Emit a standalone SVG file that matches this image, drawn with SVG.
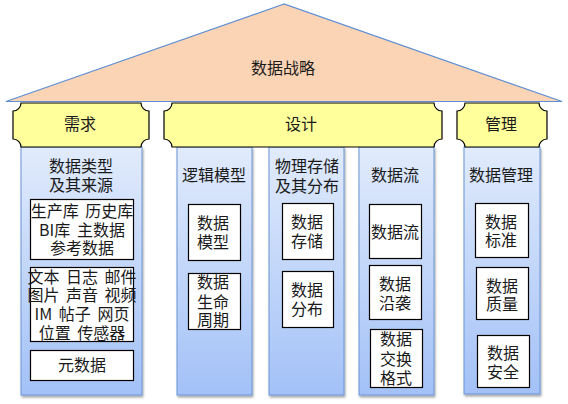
<svg xmlns="http://www.w3.org/2000/svg" width="568" height="404" viewBox="0 0 568 404">
<defs>
<linearGradient id="colg" x1="0" y1="0" x2="0" y2="1">
<stop offset="0" stop-color="#E1EBFC"/>
<stop offset="1" stop-color="#A3C1F7"/>
</linearGradient>
<filter id="sh" x="-10%" y="-10%" width="130%" height="130%">
<feDropShadow dx="1" dy="2" stdDeviation="1.2" flood-color="#000" flood-opacity="0.35"/>
</filter>
</defs>
<style>
text{font-family:"Noto Sans CJK SC","Noto Sans",sans-serif;font-size:16px;fill:#1a1a1a;text-anchor:middle}
.ws{word-spacing:3px}
.col{fill:url(#colg);stroke:#6A95D6;stroke-width:1;filter:url(#sh)}
.box{fill:#fff;stroke:#000;stroke-width:1.2}
.plq{fill:#FFFF9B;stroke:#000;stroke-width:1.2}
.roof{fill:#FAD4B5;stroke:#5E8ED4;stroke-width:1.2}
</style>
<g id="roof">
<polygon class="roof" points="284,4 6,101.5 562,101.5"/>
<text x="283" y="74">数据战略</text>
</g>
<g id="col-demand">
<rect class="col" x="21" y="147" width="121" height="248"/>
<text x="81" y="172">数据类型</text>
<text x="81" y="191">及其来源</text>
<rect class="box" x="30.5" y="199.5" width="103" height="60"/>
<text class="ws" x="82" y="217">生产库 历史库</text>
<text class="ws" x="82" y="236">BI库 主数据</text>
<text x="82" y="254">参考数据</text>
<rect class="box" x="30.5" y="267.5" width="103" height="74"/>
<text class="ws" x="82" y="283">文本 日志 邮件</text>
<text class="ws" x="82" y="301">图片 声音 视频</text>
<text class="ws" x="82" y="320">IM 帖子 网页</text>
<text class="ws" x="82" y="339">位置 传感器</text>
<rect class="box" x="30.5" y="350.5" width="103" height="30"/>
<text x="82" y="371">元数据</text>
</g>
<g id="col-logic">
<rect class="col" x="177" y="147" width="75" height="248"/>
<text x="214" y="181">逻辑模型</text>
<rect class="box" x="188.5" y="204.5" width="52" height="56"/>
<text x="213" y="229">数据</text>
<text x="213" y="248">模型</text>
<rect class="box" x="188.5" y="273.5" width="52" height="56"/>
<text x="213" y="288">数据</text>
<text x="213" y="308">生命</text>
<text x="213" y="326">周期</text>
</g>
<g id="col-physical">
<rect class="col" x="269" y="147" width="75" height="248"/>
<text x="307" y="172">物理存储</text>
<text x="307" y="192">及其分布</text>
<rect class="box" x="282.5" y="203.5" width="51" height="56"/>
<text x="307" y="228">数据</text>
<text x="307" y="247">存储</text>
<rect class="box" x="282.5" y="271.5" width="51" height="56"/>
<text x="307" y="296">数据</text>
<text x="307" y="315">分布</text>
</g>
<g id="col-flow">
<rect class="col" x="359" y="147" width="75" height="248"/>
<text x="395" y="181">数据流</text>
<rect class="box" x="369.5" y="204.5" width="52" height="54"/>
<text x="395" y="238">数据流</text>
<rect class="box" x="369.5" y="265.5" width="52" height="54"/>
<text x="395" y="290">数据</text>
<text x="395" y="309">沿袭</text>
<rect class="box" x="370.5" y="329.5" width="52" height="58"/>
<text x="396" y="345">数据</text>
<text x="396" y="365">交换</text>
<text x="396" y="384">格式</text>
</g>
<g id="col-manage">
<rect class="col" x="464" y="147" width="76" height="247"/>
<text x="501" y="181">数据管理</text>
<rect class="box" x="475.5" y="203.5" width="53" height="54"/>
<text x="501" y="228">数据</text>
<text x="501" y="246">标准</text>
<rect class="box" x="476.5" y="267.5" width="52" height="52"/>
<text x="502" y="292">数据</text>
<text x="502" y="310">质量</text>
<rect class="box" x="477.5" y="335.5" width="52" height="52"/>
<text x="503" y="359">数据</text>
<text x="503" y="378">安全</text>
</g>
<g id="plaque-demand">
<path class="plq" d="M21,103 L141,103 A8,8 0 0 0 149,111 L149,139 A8,8 0 0 0 141,147 L21,147 A8,8 0 0 0 13,139 L13,111 A8,8 0 0 0 21,103 Z"/>
<text x="80" y="130">需求</text>
</g>
<g id="plaque-design">
<path class="plq" d="M172,103 L434,103 A8,8 0 0 0 442,111 L442,139 A8,8 0 0 0 434,147 L172,147 A8,8 0 0 0 164,139 L164,111 A8,8 0 0 0 172,103 Z"/>
<text x="301" y="130">设计</text>
</g>
<g id="plaque-manage">
<path class="plq" d="M465,103 L539,103 A8,8 0 0 0 547,111 L547,139 A8,8 0 0 0 539,147 L465,147 A8,8 0 0 0 457,139 L457,111 A8,8 0 0 0 465,103 Z"/>
<text x="501" y="130">管理</text>
</g>
<g id="connectors"></g>
</svg>
